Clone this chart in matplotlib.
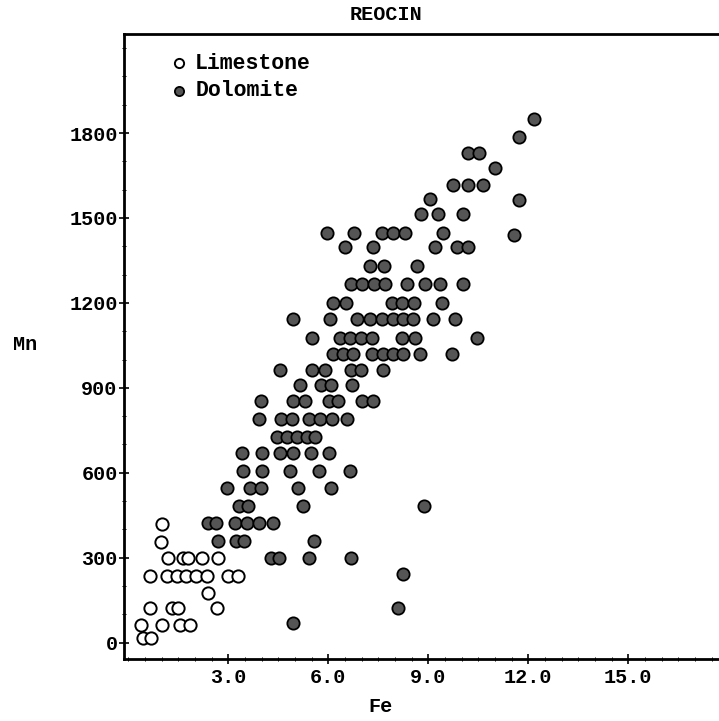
import matplotlib
matplotlib.use("Agg")
import matplotlib.pyplot as plt
from matplotlib.ticker import MultipleLocator

# ---------------- data ----------------
lime_fe = [1.00, 0.97, 1.20, 1.65, 1.80, 2.20, 2.70,
           0.65, 1.15, 1.45, 1.72, 2.02, 2.37, 3.00, 3.30,
           2.40, 0.65, 1.30, 1.50, 2.65,
           0.38, 1.02, 1.55, 1.85, 0.43, 0.68]
lime_mn = [418, 357, 300, 300, 300, 300, 300,
           235, 235, 235, 235, 235, 235, 235, 235,
           175, 121, 121, 121, 121,
           62, 62, 62, 62, 15, 15]

dolo_fe = [12.18, 11.71, 10.20, 10.53, 11.01,
           9.75, 10.19, 10.65, 11.71, 9.05,
           8.77, 9.30, 10.04,
           5.95, 6.78, 7.60, 7.95, 8.30, 9.44, 11.56,
           6.50, 7.35, 9.20, 9.86, 10.20,
           7.25, 7.67, 8.67,
           6.68, 7.01, 7.36, 7.69, 8.36, 8.89, 9.36, 10.04,
           6.15, 6.54, 7.90, 8.21, 8.56, 9.41,
           4.95, 6.05, 6.85, 7.25, 7.60, 7.95, 8.25, 8.55, 9.15, 9.80,
           5.50, 6.35, 6.65, 6.98, 7.31, 8.20, 8.60, 10.46,
           6.15, 6.45, 6.75, 7.31, 7.64, 7.94, 8.24, 8.75, 9.71,
           4.56, 5.50, 5.89, 6.68, 6.98, 7.64,
           5.16, 5.79, 6.08, 6.71,
           3.99, 4.95, 5.30, 6.01, 6.30, 7.01, 7.34,
           3.91, 4.57, 4.92, 5.41, 5.74, 6.11, 6.57,
           4.45, 4.75, 5.05, 5.35, 5.60,
           3.40, 4.02, 4.54, 4.95, 5.48, 6.01,
           3.44, 4.02, 4.86, 5.72, 6.64,
           2.95, 3.65, 3.99, 5.10, 6.09,
           3.33, 3.60, 5.25, 8.88,
           2.38, 2.63, 3.20, 3.56, 3.91, 4.35,
           2.69, 3.24, 3.47, 5.56,
           4.27, 4.53, 5.43, 6.68,
           8.23, 8.09, 4.93]
dolo_mn = [1848, 1787, 1729, 1729, 1677,
           1615, 1615, 1615, 1564, 1568,
           1515, 1515, 1515,
           1446, 1446, 1446, 1446, 1446, 1446, 1441,
           1396, 1396, 1396, 1396, 1396,
           1331, 1331, 1331,
           1266, 1266, 1266, 1266, 1266, 1266, 1266, 1266,
           1201, 1201, 1201, 1201, 1201, 1201,
           1142, 1142, 1142, 1142, 1142, 1142, 1142, 1142, 1142, 1142,
           1075, 1075, 1075, 1075, 1075, 1075, 1075, 1075,
           1021, 1021, 1021, 1021, 1021, 1021, 1021, 1021, 1021,
           963, 963, 963, 963, 963, 963,
           910, 910, 910, 910,
           855, 855, 855, 855, 855, 855, 855,
           789, 789, 789, 789, 789, 789, 789,
           725, 725, 725, 725, 725,
           669, 669, 669, 669, 669, 669,
           605, 605, 605, 605, 605,
           546, 546, 546, 546, 546,
           484, 484, 484, 484,
           421, 421, 421, 421, 421, 421,
           360, 360, 360, 360,
           300, 300, 300, 300,
           243, 121, 69]

x_ticks = [3.0, 6.0, 9.0, 12.0, 15.0]
x_ticklabels = ["3.0", "6.0", "9.0", "12.0", "15.0"]
y_ticks = [0, 300, 600, 900, 1200, 1500, 1800]
y_ticklabels = ["0", "300", "600", "900", "1200", "1500", "1800"]

# ---------------- figure ----------------
FONT = "Liberation Mono"
plt.rcParams["font.family"] = [FONT, "DejaVu Sans"]
plt.rcParams["font.weight"] = "bold"

fig = plt.figure(figsize=(7.19, 7.21), dpi=100)
ax = fig.add_axes([124 / 719, 1 - 659 / 721, (719 - 124) / 719, (659 - 34) / 721])

ax.scatter(lime_fe, lime_mn, s=78, facecolors="white", edgecolors="black",
           linewidths=1.4, label="Limestone", zorder=3)
ax.scatter(dolo_fe, dolo_mn, s=78, facecolors="#555555", edgecolors="black",
           linewidths=1.3, label="Dolomite", zorder=3)

ax.set_xlim(-0.13, 17.72)
ax.set_ylim(-58, 2150)

ax.set_xticks(x_ticks)
ax.set_xticklabels(x_ticklabels)
ax.set_yticks(y_ticks)
ax.set_yticklabels(y_ticklabels)
ax.xaxis.set_minor_locator(MultipleLocator(0.5))
ax.yaxis.set_minor_locator(MultipleLocator(100))

ax.tick_params(axis="both", which="major", direction="inout", length=7,
               width=1.2, labelsize=14.5, colors="black")
ax.tick_params(axis="both", which="minor", direction="inout", length=2.5,
               width=0.7)
ax.tick_params(axis="x", which="major", pad=3)
ax.tick_params(axis="y", which="major", pad=1)
for lab in ax.get_xticklabels() + ax.get_yticklabels():
    lab.set_fontweight("bold")

for side in ("left", "bottom", "top"):
    ax.spines[side].set_linewidth(2.0)
ax.spines["right"].set_visible(False)

leg = ax.legend(loc="upper left", bbox_to_anchor=(0.078, 0.97), frameon=False,
                handlelength=0.8, handletextpad=0.35, labelspacing=0.3,
                borderpad=0, borderaxespad=0, markerscale=0.75,
                prop={"family": FONT, "weight": "bold", "size": 15.5})

fig.text(386 / 719, 1 - 15 / 721, "REOCIN", ha="center", va="center",
         fontsize=14.5, fontweight="bold")
fig.text(25 / 719, 1 - 345 / 721, "Mn", ha="center", va="center",
         fontsize=14.5, fontweight="bold")
fig.text(381 / 719, 1 - 706 / 721, "Fe", ha="center", va="center",
         fontsize=14.5, fontweight="bold")

fig.savefig("out.png", dpi=100)
